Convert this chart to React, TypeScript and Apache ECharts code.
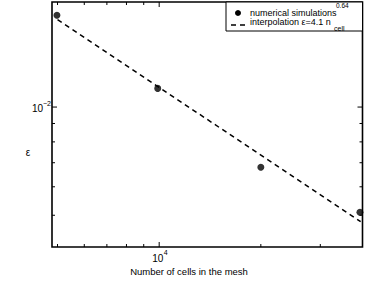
import React, { useEffect, useRef } from "react";
import * as echarts from "echarts";

// Data
const cells = [4980, 9900, 20000, 39300];
const errors = [0.018, 0.01127, 0.0068, 0.0051];
const fitCells = [5000, 39500];
const fitErrors = [0.0175, 0.0048];

// Axis ranges and ticks
const xMin = 4815;
const xMax = 40000;
const yMin = 0.00408;
const yMax = 0.0196;
const xTicks = [5000, 6000, 7000, 8000, 9000, 10000, 20000, 30000];
const xMajorTicks = [10000];
const yTicks = [0.005, 0.006, 0.007, 0.008, 0.009, 0.01];
const yMajorTicks = [0.01];
const xTickLabels = [{ value: 10000, base: "10", exp: "4" }];
const yTickLabels = [{ value: 0.01, base: "10", exp: "\u22122" }];

const FONT = "Liberation Sans, Arial, Helvetica, sans-serif";

export default function App() {
  const ref = useRef<HTMLDivElement>(null);
  useEffect(() => {
    if (!ref.current) return;
    const chart = echarts.init(ref.current, null, { renderer: "svg" });
    const option: any = {
      animation: false,
      backgroundColor: "#ffffff",
      grid: {
        left: 52,
        top: 2,
        right: 5.5,
        bottom: 34,
        show: true,
        borderColor: "#000",
        borderWidth: 1.6,
        backgroundColor: "transparent",
      },
      xAxis: {
        type: "log",
        min: xMin,
        max: xMax,
        axisLine: { show: false },
        axisTick: { show: false },
        axisLabel: { show: false },
        splitLine: { show: false },
      },
      yAxis: {
        type: "log",
        min: yMin,
        max: yMax,
        axisLine: { show: false },
        axisTick: { show: false },
        axisLabel: { show: false },
        splitLine: { show: false },
      },
      series: [
        {
          type: "custom",
          silent: true,
          clip: false,
          data: xTicks.map((v) => [v, yMin, xMajorTicks.includes(v) ? 1 : 0]),
          renderItem: (params: any, api: any) => {
            const v = api.value(0);
            const len = api.value(2) ? 5 : 3;
            const b = api.coord([v, yMin]);
            const t = api.coord([v, yMax]);
            return {
              type: "group",
              children: [
                { type: "line", shape: { x1: b[0], y1: b[1], x2: b[0], y2: b[1] - len }, style: { stroke: "#000", lineWidth: 1 } },
                { type: "line", shape: { x1: t[0], y1: t[1], x2: t[0], y2: t[1] + len }, style: { stroke: "#000", lineWidth: 1 } },
              ],
            };
          },
        },
        {
          type: "custom",
          silent: true,
          clip: false,
          data: yTicks.map((v) => [xMin, v, yMajorTicks.includes(v) ? 1 : 0]),
          renderItem: (params: any, api: any) => {
            const v = api.value(1);
            const len = api.value(2) ? 5 : 3;
            const l = api.coord([xMin, v]);
            const r = api.coord([xMax, v]);
            return {
              type: "group",
              children: [
                { type: "line", shape: { x1: l[0], y1: l[1], x2: l[0] + len, y2: l[1] }, style: { stroke: "#000", lineWidth: 1 } },
                { type: "line", shape: { x1: r[0], y1: r[1], x2: r[0] - len, y2: r[1] }, style: { stroke: "#000", lineWidth: 1 } },
              ],
            };
          },
        },
        {
          type: "custom",
          silent: true,
          clip: false,
          data: xTickLabels.map((d) => [d.value, yMin]),
          renderItem: (params: any, api: any) => {
            const d = xTickLabels[params.dataIndex];
            const p = api.coord([d.value, yMin]);
            return {
              type: "group",
              children: [
                { type: "text", x: p[0] - 7, y: p[1] + 11.5, style: { text: d.base, fill: "#000", fontSize: 10, fontFamily: FONT, align: "left", verticalAlign: "middle" } },
                { type: "text", x: p[0] + 4.5, y: p[1] + 5.5, style: { text: d.exp, fill: "#000", fontSize: 7, fontFamily: FONT, align: "left", verticalAlign: "middle" } },
              ],
            };
          },
        },
        {
          type: "custom",
          silent: true,
          clip: false,
          data: yTickLabels.map((d) => [xMin, d.value]),
          renderItem: (params: any, api: any) => {
            const d = yTickLabels[params.dataIndex];
            const p = api.coord([xMin, d.value]);
            return {
              type: "group",
              children: [
                { type: "text", x: p[0] - 9, y: p[1] + 1.5, style: { text: d.base, fill: "#000", fontSize: 10, fontFamily: FONT, align: "right", verticalAlign: "middle" } },
                { type: "text", x: p[0] - 9, y: p[1] - 4, style: { text: d.exp, fill: "#000", fontSize: 7, fontFamily: FONT, align: "left", verticalAlign: "middle" } },
              ],
            };
          },
        },
        {
          type: "line",
          data: fitCells.map((c, i) => [c, fitErrors[i]]),
          showSymbol: false,
          symbol: "none",
          lineStyle: { color: "#000", width: 1.5, type: [5, 4] },
          z: 3,
        },
        {
          type: "scatter",
          data: cells.map((c, i) => [c, errors[i]]),
          symbol: "circle",
          symbolSize: 7,
          itemStyle: { color: "#000" },
          z: 4,
        },
      ],
      graphic: [
        { type: "text", x: 189, y: 271.5, style: { text: "Number of cells in the mesh", fill: "#000", fontSize: 9.5, fontFamily: FONT, align: "center", verticalAlign: "middle" } },
        { type: "text", x: 28, y: 152, style: { text: "\u03b5", fill: "#000", fontSize: 10, fontFamily: FONT, align: "center", verticalAlign: "middle" } },
        { type: "rect", shape: { x: 226, y: 2, width: 136.5, height: 29 }, style: { fill: "#fff", stroke: "#000", lineWidth: 1 }, z: 10 },
        { type: "circle", shape: { cx: 238, cy: 13, r: 3 }, style: { fill: "#000" }, z: 11 },
        { type: "line", shape: { x1: 231, y1: 25, x2: 246, y2: 25 }, style: { stroke: "#000", lineWidth: 1.5, lineDash: [5, 4] }, z: 11 },
        { type: "text", x: 250, y: 12.5, style: { text: "numerical simulations", fill: "#000", fontSize: 9, fontFamily: FONT, verticalAlign: "middle" }, z: 11 },
        { type: "text", x: 250, y: 22, style: { text: "interpolation \u03b5=4.1 n", fill: "#000", fontSize: 9, fontFamily: FONT, verticalAlign: "middle" }, z: 11 },
        { type: "text", x: 336, y: 5.5, style: { text: "0.64", fill: "#000", fontSize: 6.5, fontFamily: FONT, verticalAlign: "middle" }, z: 12 },
        { type: "text", x: 334, y: 28, style: { text: "cell", fill: "#000", fontSize: 7, fontFamily: FONT, verticalAlign: "middle" }, z: 11 },
      ],
    };
    chart.setOption(option);
    return () => chart.dispose();
  }, []);
  return <div ref={ref} style={{ position: "fixed", left: 0, top: 0, width: 368, height: 281 }} />;
}
